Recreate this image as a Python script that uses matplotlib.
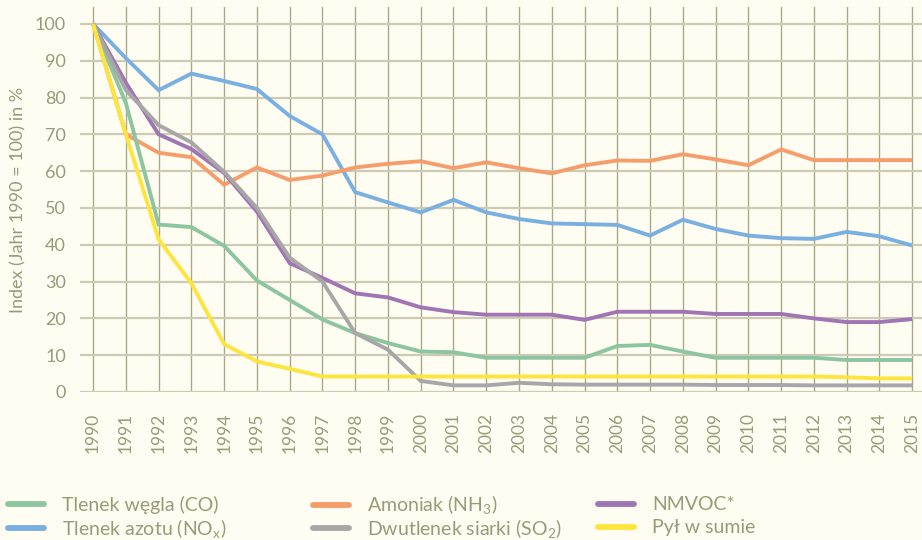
import matplotlib
matplotlib.use("Agg")
import matplotlib.pyplot as plt
from matplotlib.lines import Line2D

years = list(range(1990, 2016))

co = [100, 78.5, 45.5, 44.8, 39.7, 30.3, 25.0, 19.7, 16.0, 13.3, 11.0, 10.8, 9.3, 9.3, 9.3, 9.3,
      12.5, 12.8, 11.0, 9.3, 9.3, 9.3, 9.3, 8.7, 8.7, 8.7]
nox = [100, 90.7, 82.0, 86.5, 84.5, 82.3, 75.0, 70.0, 54.3, 51.5, 48.8, 52.2, 48.8, 47.0, 45.8, 45.6,
       45.4, 42.5, 46.8, 44.3, 42.5, 41.8, 41.6, 43.5, 42.3, 39.8]
nh3 = [100, 70.0, 65.0, 63.8, 56.3, 61.0, 57.6, 58.8, 61.0, 62.0, 62.7, 60.8, 62.4, 60.8, 59.4, 61.6,
       62.9, 62.8, 64.6, 63.2, 61.6, 65.9, 63.0, 63.0, 63.0, 63.0]
so2 = [100, 82.0, 72.5, 67.8, 59.8, 50.0, 36.5, 30.0, 16.0, 11.5, 3.0, 1.8, 1.8, 2.5, 2.1, 2.0,
       2.0, 2.0, 2.0, 1.9, 1.9, 1.9, 1.8, 1.8, 1.8, 1.8]
nmvoc = [100, 84.0, 70.0, 66.0, 59.5, 49.0, 35.0, 31.0, 26.8, 25.7, 23.0, 21.7, 21.0, 21.0, 21.0, 19.6,
         21.8, 21.8, 21.8, 21.2, 21.2, 21.2, 20.0, 19.0, 19.0, 19.8]
dust = [100, 70.0, 41.5, 29.5, 13.0, 8.3, 6.3, 4.2, 4.2, 4.2, 4.2, 4.2, 4.2, 4.2, 4.2, 4.2,
        4.2, 4.2, 4.2, 4.2, 4.2, 4.2, 4.2, 4.0, 3.7, 3.7]

labels = ["Tlenek węgla (CO)", "Tlenek azotu (NO$_\\mathregular{x}$)",
          "Amoniak (NH$_\\mathregular{3}$)", "Dwutlenek siarki (SO$_\\mathregular{2}$)",
          "NMVOC*", "Pył w sumie"]
colors = {"co": "#8dc5a1", "nox": "#7aafe1", "nh3": "#f69d6c",
          "so2": "#a8a7a7", "nmvoc": "#a075b3", "dust": "#fde53e"}

bg = "#fffdf1"
txt = "#9b9979"
tickfont = ["Lato", "DejaVu Sans"]

plt.rcParams["mathtext.default"] = "regular"
fig = plt.figure(figsize=(9.22, 5.40), dpi=100, facecolor=bg)
ax = fig.add_axes([80/922, 1-392/540, 842/922, 385/540], facecolor=bg)

lw = 2.8
series = [("nox", nox, 1), ("nh3", nh3, 2), ("co", co, 0), ("nmvoc", nmvoc, 4),
          ("so2", so2, 3), ("dust", dust, 5)]
handles = {}
for key, vals, idx in series:
    ln, = ax.plot(years, vals, color=colors[key], lw=lw, solid_joinstyle="miter",
                  solid_capstyle="butt", zorder=3)
    handles[idx] = ln

ax.set_xlim(1989.6, 2015.3)
ax.set_ylim(0, 104.6)
ax.set_xticks(years)
ax.set_yticks(range(0, 101, 10))
ax.set_xticklabels([str(y) for y in years], rotation=90, fontsize=12.5,
                   color=txt, family=tickfont)
ax.set_yticklabels([str(v) for v in range(0, 101, 10)], fontsize=13,
                   color=txt, family=tickfont)
ax.tick_params(length=0)
ax.tick_params(axis="x", pad=15)
ax.tick_params(axis="y", pad=10)
for s in ax.spines.values():
    s.set_visible(False)
ax.grid(axis="x", color="#a9a78c", lw=1.0, zorder=1)
ax.grid(axis="y", color="#cdcbb4", lw=1.6, zorder=1)
ax.set_axisbelow(True)

fig.text(18/922, 1-200/540, "Index (Jahr 1990 = 100) in %", rotation=90,
         ha="center", va="center", fontsize=13, color=txt, family=tickfont)

# legend: one small legend per entry so every row sits at the same height
legfont = {"family": tickfont, "size": 14}
col_x = [12, 317, 602]
row_y = [505, 528]
for i in range(6):
    c, r = divmod(i, 2)
    h = Line2D([], [], color=handles[i].get_color(), lw=4.2, solid_capstyle="round")
    leg = fig.legend([h], [labels[i]], loc="center left",
                     bbox_to_anchor=(col_x[c]/922 - 0.004, 1-row_y[r]/540), frameon=False,
                     prop=legfont, handlelength=1.85, handletextpad=0.9,
                     borderpad=0, borderaxespad=0)
    for t in leg.get_texts():
        t.set_color(txt)
        t.set_va("baseline")

fig.savefig("out.png", dpi=100, facecolor=bg)
